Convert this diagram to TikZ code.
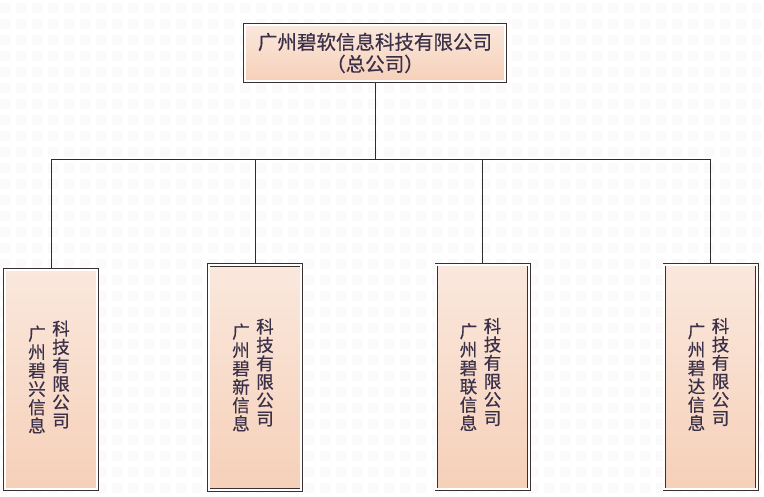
\documentclass[tikz,border=0pt]{standalone}
\usepackage{fontspec}
\newfontfamily\cjk[FakeBold=0.5]{Noto Sans CJK SC}
\usepackage{xcolor}
\usetikzlibrary{positioning,calc}
\definecolor{ink}{HTML}{3A3048}
\definecolor{rim}{HTML}{3B302D}
\definecolor{peachtop}{HTML}{FAE8DD}
\definecolor{peachbot}{HTML}{F6D0B9}
\definecolor{wire}{HTML}{2E2A2A}
\tikzset{
  box/.style   ={draw=rim,line width=0.8pt,double=white,double distance=1.8pt,
                 top color=peachtop,bottom color=peachbot,inner sep=0pt},
  hqbox/.style ={box,minimum width=260.6pt,minimum height=56.6pt,text=ink,align=center,
                 font=\cjk\fontsize{19.5}{22}\selectfont},
  subbox/.style={box,minimum width=92.6pt},
  col/.style   ={inner sep=0pt,text=ink,align=center,font=\cjk\fontsize{17.5}{18.4}\selectfont},
  link/.style  ={draw=wire,line width=0.9pt,shorten <=1.7pt,shorten >=1.7pt},
  bgrid/.style ={black!2,line width=10pt,dash pattern=on 10pt off 6pt},
}

\begin{document}
\begin{tikzpicture}[x=1pt,y=-1pt]
  \useasboundingbox (0,0) rectangle (764,497);
  % faint tiled backdrop
  \foreach \y in {8,24,...,504}
     \draw[bgrid] (0,\y) -- (764,\y);

  \node[hqbox] (hq) at (375,53) {广州碧软信息科技有限公司\\（总公司）};

  \foreach \name/\x/\y/\h/\w in {xing/51/379.5/219.6/兴,xin/255/377.5/224.6/新,
                                 lian/482.5/377/224.6/联,da/710.5/377/224.6/达}{
     \node[subbox,minimum height=\h pt] (\name) at (\x,\y) {};
     \node[col] (\name-l) at ([xshift=-14pt]\name.center) {广\\州\\碧\\\w\\信\\息};
     \node[col] (\name-r) at ([xshift=10pt,yshift=5pt]\name.center) {科\\技\\有\\限\\公\\司};
  }

  \coordinate (bus) at (375,159);
  \foreach \name in {xing,xin,lian,da}
     \draw[link] (hq.south) |- (bus -| \name.north) -- (\name.north);
\end{tikzpicture}
\end{document}
